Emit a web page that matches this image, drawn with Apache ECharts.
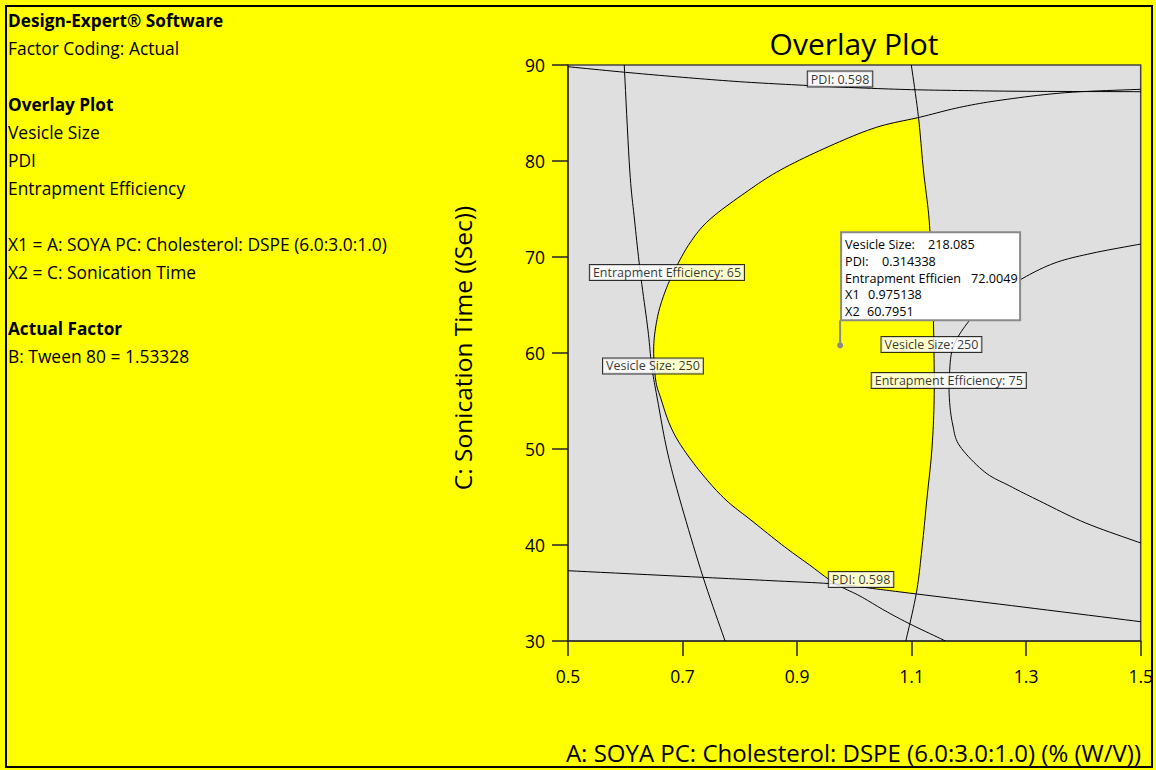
<!DOCTYPE html>
<html><head><meta charset="utf-8">
<script src="https://cdn.jsdelivr.net/npm/echarts@6/dist/echarts.min.js"></script>
<style>html,body{margin:0;padding:0;background:#ffff00}#c{width:1156px;height:770px}</style>
</head><body><div id="c"></div>
<script>
// ---- data ----
const xAxisRange = [0.5, 1.5, 0.2];
const yAxisRange = [30, 90, 10];

const vesicleLeft = [[1.5,87.47],[1.3674,87.11],[1.2574,86.35],[1.1841,85.59],[1.115,84.57],[1.0387,83.51],[0.9572,81.56],[0.8709,79.06],[0.8089,76.67],[0.7464,73.85],[0.7129,71.46],[0.6864,68.65],[0.6693,66.35],[0.6564,63.78],[0.6497,60.66],[0.6531,57.19],[0.6630,55.10],[0.6780,52.50],[0.6990,50.21],[0.7356,47.29],[0.7757,44.69],[0.8194,42.60],[0.8780,39.82],[0.9218,37.92],[0.9658,36.01],[1.0096,34.69],[1.0534,33.16],[1.0972,31.77],[1.1593,30.0]];
const vesicleRight = [[1.5,71.35],[1.415,70.39],[1.3487,69.35],[1.2888,67.60],[1.2365,65.52],[1.1993,63.26],[1.1728,60.66],[1.1661,57.88],[1.1661,55.10],[1.1719,52.50],[1.1841,50.31],[1.2277,47.60],[1.2714,46.15],[1.3237,44.58],[1.4040,42.29],[1.5,40.21]];
const ee65 = [[0.5982,90],[0.6078,79.06],[0.6162,73.85],[0.6264,68.33],[0.6396,62.40],[0.6463,58.57],[0.6564,55.10],[0.6728,49.90],[0.6955,44.69],[0.7356,36.70],[0.7743,30.0]];
const ee75 = [[1.0995,90],[1.1119,84.61],[1.1206,79.06],[1.1306,73.85],[1.1361,67.60],[1.1387,61.35],[1.1393,55.10],[1.1353,49.90],[1.1265,44.69],[1.1178,39.48],[1.1082,34.97],[1.0899,30.0]];
const pdiTop = [[0.5,89.82],[0.6,89.24],[0.7,88.72],[0.8,88.26],[0.9,87.92],[1.0,87.64],[1.1,87.43],[1.2,87.33],[1.3,87.26],[1.5,87.22]];
const pdiBottom = [[0.5,37.32],[0.7356,36.63],[0.8562,36.28],[0.9658,35.94],[1.0387,35.42],[1.1082,34.90],[1.2944,33.54],[1.5,32.01]];

const labelTexts = ['PDI: 0.598','Entrapment Efficiency: 65','Vesicle Size: 250','Vesicle Size: 250','Entrapment Efficiency: 75','PDI: 0.598'];
const labelX = [0.975, 0.6728, 0.6483, 1.1346, 1.1649, 1.0117];
const labelY = [88.54, 68.39, 58.65, 60.89, 57.14, 36.41];

const probePoint = [0.975138, 60.7951];
const probeKeys = ['Vesicle Size:','PDI:','Entrapment Efficien','X1','X2'];
const probeValues = ['218.085','0.314338','72.0049','0.975138','60.7951'];

const panelLines = ['Design-Expert\u00ae Software','Factor Coding: Actual','','Overlay Plot','Vesicle Size','PDI','Entrapment Efficiency','','X1 = A: SOYA PC: Cholesterol: DSPE (6.0:3.0:1.0)','X2 = C: Sonication Time','','Actual Factor','B: Tween 80 = 1.53328'];
const panelBold = [true,false,false,true,false,false,false,false,false,false,false,true,false];
const titleText = 'Overlay Plot';
const xName = 'A: SOYA PC: Cholesterol: DSPE (6.0:3.0:1.0) (% (W/V))';
const yName = 'C: Sonication Time ((Sec))';

// ---- drawing helpers (pixel-space smoothing of the contour polylines) ----
function smoothPx(pts, n){
  const out=[];
  for(let i=0;i<pts.length-1;i++){
    const p0=pts[i-1]||pts[i], p1=pts[i], p2=pts[i+1], p3=pts[i+2]||pts[i+1];
    for(let k=0;k<n;k++){
      const t=k/n,t2=t*t,t3=t2*t;
      const f=j=>0.5*((2*p1[j])+(-p0[j]+p2[j])*t+(2*p0[j]-5*p1[j]+4*p2[j]-p3[j])*t2+(-p0[j]+3*p1[j]-3*p2[j]+p3[j])*t3);
      out.push([f(0),f(1)]);
    }
  }
  out.push(pts[pts.length-1]);
  return out;
}
function segX(p1,p2,q1,q2){
  const d1x=p2[0]-p1[0], d1y=p2[1]-p1[1], d2x=q2[0]-q1[0], d2y=q2[1]-q1[1];
  const den=d1x*d2y-d1y*d2x; if(Math.abs(den)<1e-12) return null;
  const wx=q1[0]-p1[0], wy=q1[1]-p1[1];
  const t=(wx*d2y-wy*d2x)/den, u=(wx*d1y-wy*d1x)/den;
  if(t<0||t>1||u<0||u>1) return null;
  return [p1[0]+t*d1x, p1[1]+t*d1y];
}
function firstCross(A,B){
  for(let i=0;i<A.length-1;i++) for(let j=0;j<B.length-1;j++){
    const p=segX(A[i],A[i+1],B[j],B[j+1]); if(p) return {i,j,pt:p};
  }
  return null;
}
function part(A,i0,p0,i1,p1){ return [p0].concat(A.slice(i0+1,i1+1),[p1]); }
const SUB=10;
function curvePx(api,c){ return smoothPx(c.map(p=>api.coord(p)),SUB); }

const FF='"Open Sans","Noto Sans",sans-serif';
const chart=echarts.init(document.getElementById('c'),null,{renderer:'svg'});

function curveSeries(name,c){
  return {type:'custom',name:name,data:c,clip:true,silent:true,z:3,animation:false,
    renderItem:(params,api)=>{
      if(params.dataIndex!==0) return null;
      return {type:'polyline',shape:{points:curvePx(api,c)},style:{stroke:'#000',lineWidth:1,fill:null}};
    }};
}

const graphics=[
  {type:'rect',shape:{x:6,y:6,width:1146,height:761},style:{fill:'none',stroke:'#000',lineWidth:2},z:10},
  {type:'text',x:854,y:43,style:{text:titleText,font:'30px '+FF,fill:'#000',align:'center',verticalAlign:'middle',textAlign:'center',textVerticalAlign:'middle'}},
  {type:'text',x:1141,y:752,style:{text:xName,font:'24px '+FF,fill:'#000',align:'right',verticalAlign:'middle',textAlign:'right',textVerticalAlign:'middle'}},
  {type:'text',x:462,y:348,rotation:Math.PI/2,style:{text:yName,font:'24.5px '+FF,fill:'#000',align:'center',verticalAlign:'middle',textAlign:'center',textVerticalAlign:'middle'}}
];
panelLines.forEach((t,i)=>{ if(!t) return;
  graphics.push({type:'text',x:8,y:20+28*i,style:{text:t,font:(panelBold[i]?'bold 17.2px ':'17.4px ')+FF,fill:'#000',align:'left',verticalAlign:'middle',textAlign:'left',textVerticalAlign:'middle'}});
});

chart.setOption({
  backgroundColor:'#ffff00',
  animation:false,
  grid:{left:568,top:65,width:573,height:576,show:true,backgroundColor:'#dfdfdf',borderColor:'#444',borderWidth:1.5,containLabel:false},
  xAxis:{type:'value',min:xAxisRange[0],max:xAxisRange[1],interval:xAxisRange[2],
    axisLine:{show:true,lineStyle:{color:'#333',width:1.5}},
    axisTick:{show:true,inside:false,length:15,lineStyle:{color:'#222',width:1.5}},
    axisLabel:{margin:26,fontSize:17.5,fontFamily:FF,color:'#000',formatter:v=>v.toFixed(1)},
    splitLine:{show:false}},
  yAxis:{type:'value',min:yAxisRange[0],max:yAxisRange[1],interval:yAxisRange[2],
    axisLine:{show:true,lineStyle:{color:'#333',width:1.5}},
    axisTick:{show:true,inside:false,length:16,lineStyle:{color:'#222',width:1.5}},
    axisLabel:{margin:23,fontSize:17.5,fontFamily:FF,color:'#000'},
    splitLine:{show:false}},
  graphic:graphics,
  series:[
    {type:'custom',name:'feasible region',data:[probePoint],clip:true,z:1,silent:true,
     renderItem:(params,api)=>{
       const A=curvePx(api,vesicleLeft), E=curvePx(api,ee75), B=curvePx(api,pdiBottom);
       const c1=firstCross(A,E), c2=firstCross(A,B), c3=firstCross(B,E);
       if(!c1||!c2||!c3) return null;
       const region=part(A,c1.i,c1.pt,c2.i,c2.pt)
         .concat(part(B,c2.j,c2.pt,c3.i,c3.pt))
         .concat(part(E,c1.j,c1.pt,c3.j,c3.pt).reverse());
       return {type:'polygon',shape:{points:region},style:{fill:'#ffff00'}};
     }},
    curveSeries('Vesicle Size 250 (left)',vesicleLeft),
    curveSeries('Vesicle Size 250 (right)',vesicleRight),
    curveSeries('Entrapment Efficiency 65',ee65),
    curveSeries('Entrapment Efficiency 75',ee75),
    curveSeries('PDI 0.598 (top)',pdiTop),
    curveSeries('PDI 0.598 (bottom)',pdiBottom),
    {type:'scatter',z:5,silent:true,symbolSize:1,itemStyle:{color:'rgba(0,0,0,0)'},
     data:labelTexts.map((t,i)=>({name:t,value:[labelX[i],labelY[i]]})),
     label:{show:true,position:'inside',formatter:'{b}',fontFamily:FF,fontSize:12.5,color:'#000',backgroundColor:'#fff',borderColor:'#000',borderWidth:1,padding:[0,3,0,3],lineHeight:15}},
    {type:'custom',z:6,silent:true,data:[probePoint],clip:false,
     renderItem:(params,api)=>{
       const p=api.coord([api.value(0),api.value(1)]);
       const bx=p[0]+1, by=p[1]-25-88, bw=179, bh=88;
       const valOff=[87,41,130,27,26];
       const ch=[
         {type:'line',shape:{x1:p[0],y1:p[1],x2:p[0],y2:p[1]-25},style:{stroke:'#8a8a8a',lineWidth:2}},
         {type:'circle',shape:{cx:p[0],cy:p[1],r:3},style:{fill:'#8a8a8a'}},
         {type:'rect',shape:{x:bx,y:by,width:bw,height:bh},style:{fill:'#fff',stroke:'#8a8a8a',lineWidth:2}}
       ];
       probeKeys.forEach((k,i)=>{
         const yy=by+12.5+16.7*i;
         ch.push({type:'text',x:bx+4,y:yy,style:{text:k,font:'12.6px '+FF,fill:'#000',align:'left',verticalAlign:'middle',textAlign:'left',textVerticalAlign:'middle'}});
         ch.push({type:'text',x:bx+valOff[i],y:yy,style:{text:probeValues[i],font:'12.6px '+FF,fill:'#000',align:'left',verticalAlign:'middle',textAlign:'left',textVerticalAlign:'middle'}});
       });
       return {type:'group',children:ch};
     }}
  ]
});
</script></body></html>
